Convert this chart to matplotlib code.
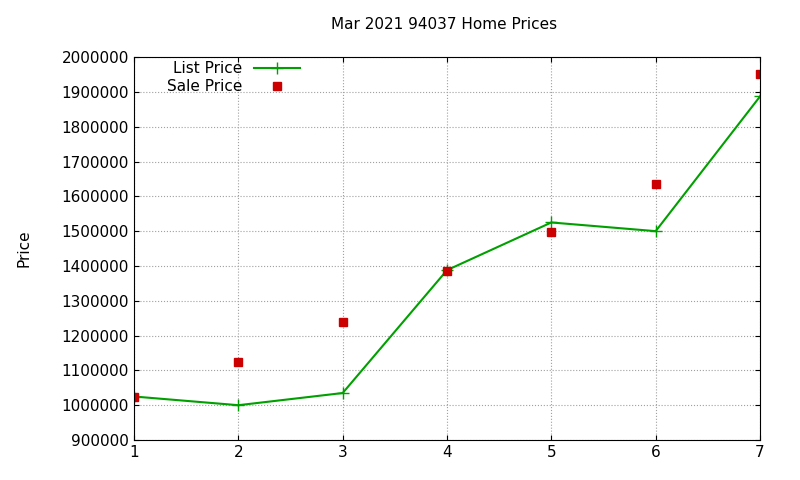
import matplotlib
matplotlib.use("Agg")
import matplotlib.pyplot as plt

x = [1, 2, 3, 4, 5, 6, 7]
list_price = [1025000, 1000000, 1035000, 1388000, 1525000, 1500000, 1887000]
sale_price = [1025000, 1125000, 1240000, 1386000, 1499000, 1636000, 1952000]
yticks = list(range(900000, 2000001, 100000))

fig = plt.figure(figsize=(8, 4.8), dpi=100)
ax = fig.add_axes([0.1675, 0.0833, 0.7825, 0.7977])
ax.plot(x, list_price, color="#00a000", marker="+", markersize=8, lw=1.5, label="List Price")
ax.plot(x, sale_price, color="#cc0000", marker="s", markersize=6, ls="none", label="Sale Price")
ax.set_xlim(1, 7)
ax.set_ylim(900000, 2000000)
ax.set_yticks(yticks)
ax.set_yticklabels([str(v) for v in yticks])
ax.set_xticks(x)
ax.grid(True, color="#a0a0a0", ls=":", lw=0.8)
ax.tick_params(direction="in", top=True, right=True, labelsize=11)
ax.set_ylabel("Price", fontsize=11, labelpad=22)
fig.suptitle("Mar 2021 94037 Home Prices", x=0.555, y=0.965, fontsize=11)
ax.legend(loc="upper left", markerfirst=False, frameon=False, fontsize=11,
          bbox_to_anchor=(0.03, 1.025), handlelength=3, labelspacing=0.2)
fig.savefig("out.png")
